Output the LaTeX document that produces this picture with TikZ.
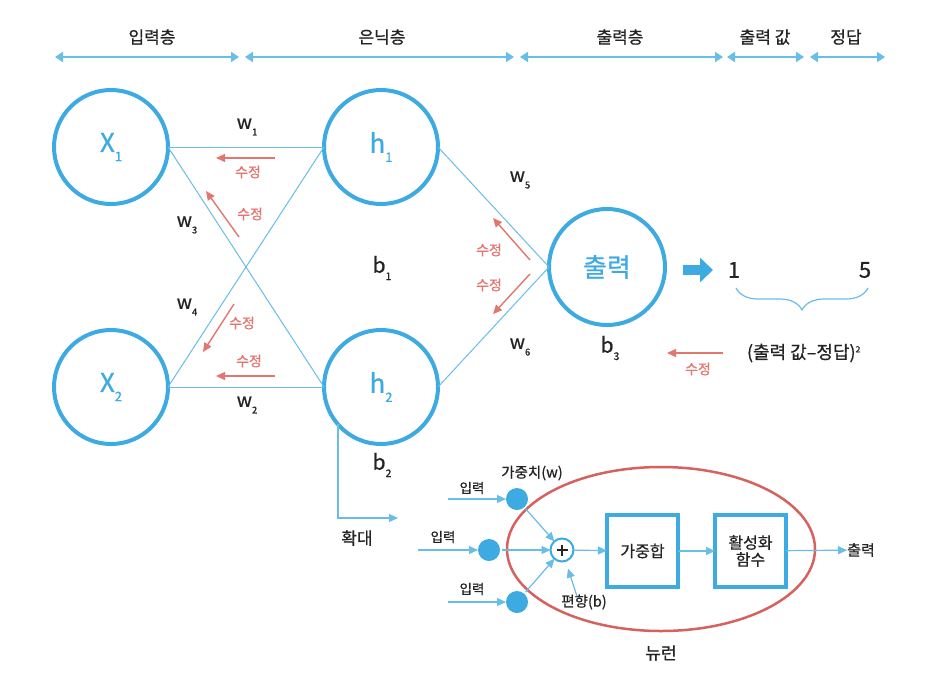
\documentclass[tikz,border=0pt]{standalone}
\usepackage{fontspec}
\setmainfont{Noto Sans CJK KR}[FakeBold=0.7]
\usetikzlibrary{arrows.meta,decorations.pathreplacing,calc}
\definecolor{cblue}{RGB}{62,170,226}
\definecolor{lblue}{RGB}{105,190,232}
\definecolor{cred}{RGB}{228,118,112}
\definecolor{ered}{RGB}{214,98,96}
\definecolor{txt}{RGB}{35,35,35}
\newcommand\lsub[1]{\raisebox{-0.35em}{\scalebox{0.5}{#1}}}
\tikzset{
 neuron/.style={circle, draw=cblue, line width=4pt, minimum size=114pt, inner sep=0pt, outer sep=0pt, text=cblue, font=\fontsize{26}{30}\selectfont},
 link/.style={draw=lblue, line width=1pt},
 fix/.style={draw=cred, line width=1.4pt, -{Triangle[length=9pt,width=8pt]}},
 fixlbl/.style={text=cred, font=\fontsize{14}{16}\selectfont, inner sep=0pt},
 wlbl/.style={text=txt, font=\fontsize{19}{22}\selectfont, inner sep=0pt},
 hdr/.style={draw=lblue, line width=2pt, {Triangle[length=8pt,width=10pt]}-{Triangle[length=8pt,width=10pt]}},
 hdrlbl/.style={text=txt, font=\fontsize{17}{20}\selectfont, inner sep=0pt},
 flow/.style={draw=lblue, line width=1.2pt, -{Triangle[length=9pt,width=8pt]}},
 small/.style={text=txt, font=\fontsize{13.5}{16}\selectfont, inner sep=0pt},
 dot/.style={circle, fill=cblue, minimum size=22pt, inner sep=0pt, outer sep=0pt},
 blk/.style={draw=cblue, line width=4pt, minimum width=71pt, minimum height=72pt, inner sep=0pt, outer sep=0pt, text=txt, align=center, font=\fontsize{16}{19}\selectfont},
}
\begin{document}
\begin{tikzpicture}[x=1pt,y=-1pt]
\fill[white] (0,0) rectangle (936,686);
\useasboundingbox (0,0) rectangle (936,686);
% header
\draw[hdr] (55,57) -- (239,57);
\draw[hdr] (245,57) -- (514,57);
\draw[hdr] (520,57) -- (723,57);
\draw[hdr] (727,57) -- (804,57);
\draw[hdr] (810,57) -- (885,57);
\node[hdrlbl] (l1) at (152,37) {입력층};
\node[hdrlbl] (l2) at (382,37) {은닉층};
\node[hdrlbl] (l3) at (620,37) {출력층};
\node[hdrlbl] (l4) at (765,37) {출력 값};
\node[hdrlbl] (l5) at (846,37) {정답};
% network
\node[neuron] (x1) at (111,147) {X\lsub{1}};
\node[neuron] (x2) at (111,387) {X\lsub{2}};
\node[neuron] (h1) at (381,147) {h\lsub{1}};
\node[neuron] (h2) at (381,387) {h\lsub{2}};
\node[neuron, minimum size=116pt] (out) at (607,267) {출력};
\draw[link] (x1.east) -- (h1.west);
\draw[link] (x1.east) -- (h2.west);
\draw[link] (x2.east) -- (h1.west);
\draw[link] (x2.east) -- (h2.west);
\draw[link] (h1.east) -- (out.west);
\draw[link] (h2.east) -- (out.west);
\node[wlbl] (w1) at (247,127) {w\lsub{1}};
\node[wlbl] (w3) at (187,225) {w\lsub{3}};
\node[wlbl] (w4) at (187,307) {w\lsub{4}};
\node[wlbl] (w2) at (247,405) {w\lsub{2}};
\node[wlbl] (w5) at (520,180) {w\lsub{5}};
\node[wlbl] (w6) at (520,347) {w\lsub{6}};
\node[wlbl, font=\fontsize{21}{24}\selectfont] (b1) at (382,268) {b\lsub{1}};
\node[wlbl, font=\fontsize{21}{24}\selectfont] (b2) at (382,465) {b\lsub{2}};
\node[wlbl, font=\fontsize{21}{24}\selectfont] (b3) at (610,348) {b\lsub{3}};
% correction arrows
\draw[fix] (275,158) -- (216,158);
\node[fixlbl] (f1) at (248,172) {수정};
\draw[fix] (239,237) -- (206,191);
\node[fixlbl] (f2) at (250,214) {수정};
\draw[fix] (234,304) -- (203,352);
\node[fixlbl] (f3) at (242,323) {수정};
\draw[fix] (275,376) -- (216,376);
\node[fixlbl] (f4) at (249,361) {수정};
\draw[fix] (530,260) -- (493,218);
\node[fixlbl] (f5) at (489,250) {수정};
\draw[fix] (530,274) -- (493,314);
\node[fixlbl] (f6) at (489,285) {수정};
\draw[fix] (723,353) -- (667,353);
\node[fixlbl] (f7) at (698,369) {수정};
% output values
\coordinate (ba) at (683,270);
\coordinate (bb) at (713,270);
\draw[cblue, line width=10pt, -{Triangle[length=13pt,width=24pt]}] (ba) -- (bb);
\node[wlbl, font=\fontsize{22}{26}\selectfont] (one) at (734,270) {1};
\node[wlbl, font=\fontsize{22}{26}\selectfont] (five) at (865,270) {5};
\draw[lblue, line width=1.2pt, decorate, decoration={brace, mirror, amplitude=22pt}] (736,288) -- (868,288);
\node[hdrlbl, font=\fontsize{18}{21}\selectfont] (err) at (804,353) {(출력 값–정답)\textsuperscript{\scalebox{0.7}{2}}};
% zoom
\coordinate (zt) at (398,518);
\draw[flow] (h2.-139) |- (zt);
\node[hdrlbl] (zoom) at (357,538) {확대};
% neuron detail
\draw[ered, line width=2.5pt] (661,549) ellipse [x radius=154, y radius=82];
\node[dot] (d1) at (517,499) {};
\node[dot] (d2) at (489,550) {};
\node[dot] (d3) at (517,602) {};
\node[circle, draw=cblue, line width=2pt, fill=white, minimum size=23pt, inner sep=0pt, outer sep=0pt] (sum) at (562,550) {};
\draw[txt, line width=1.3pt] ($(sum)+(-5.5,0)$) -- ($(sum)+(5.5,0)$) ($(sum)+(0,-5.5)$) -- ($(sum)+(0,5.5)$);
\node[blk] (ws) at (642.5,551) {가중합};
\node[blk] (act) at (750.5,551) {활성화\\[-2pt]함수};
\node[small, font=\fontsize{15}{18}\selectfont] (outt) at (861,550) {출력};
\coordinate (i1) at (448,499);
\coordinate (i2) at (418,550);
\coordinate (i3) at (448,602);
\draw[flow] (i1) -- (d1);
\draw[flow] (i2) -- (d2);
\draw[flow] (i3) -- (d3);
\draw[flow, shorten <=2pt] (d1) -- (sum);
\draw[flow, shorten <=2pt] (d2) -- (sum);
\draw[flow, shorten <=2pt] (d3) -- (sum);
\draw[flow] (sum) -- (ws);
\draw[flow] (ws) -- (act);
\draw[flow] (act) -- (outt);
\node[small] (in1) at (472,488) {입력};
\node[small] (in2) at (443,537) {입력};
\node[small] (in3) at (472,589) {입력};
\node[small, font=\fontsize{14.5}{17}\selectfont] (wt) at (532,473) {가중치(w)};
\node[small, font=\fontsize{14.5}{17}\selectfont] (bias) at (584,602) {편향(b)};
\draw[flow, shorten >=8pt] ($(bias.north)+(-7,2)$) -- (sum);
\node[hdrlbl] (nlbl) at (661,653) {뉴런};
\end{tikzpicture}
\end{document}
